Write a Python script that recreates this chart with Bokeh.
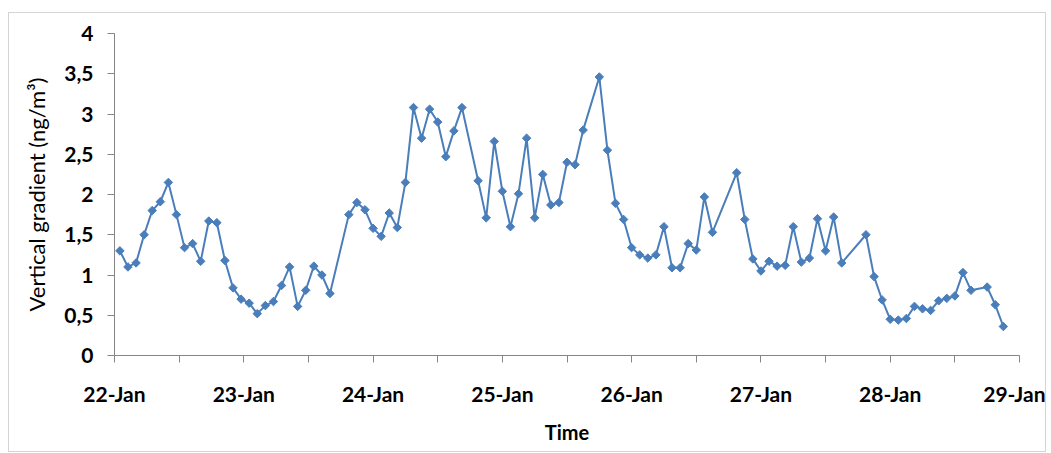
from bokeh.plotting import figure
from bokeh.models import FixedTicker
from bokeh.layouts import column
from bokeh.embed import file_html
from bokeh.resources import INLINE
import math

# hours since 22-Jan 00:00
hours = [1.0, 2.5, 4.0, 5.5, 7.0, 8.5, 10.0, 11.5, 13.0, 14.5, 16.0, 17.5, 19.0, 20.5,
         22.0, 23.5, 25.0, 26.5, 28.0, 29.5, 31.0, 32.5, 34.0, 35.5, 37.0, 38.5, 40.0,
         43.5, 45.0, 46.5, 48.0, 49.5, 51.0, 52.5, 54.0, 55.5, 57.0, 58.5, 60.0, 61.5, 63.0, 64.5,
         67.5, 69.0, 70.5, 72.0, 73.5, 75.0, 76.5, 78.0, 79.5, 81.0, 82.5, 84.0, 85.5, 87.0,
         90.0, 91.5, 93.0, 94.5, 96.0, 97.5, 99.0, 100.5, 102.0, 103.5, 105.0, 106.5, 108.0, 109.5, 111.0,
         115.5, 117.0, 118.5, 120.0, 121.5, 123.0, 124.5, 126.0, 127.5, 129.0, 130.5, 132.0, 133.5, 135.0,
         139.5, 141.0, 142.5, 144.0, 145.5, 147.0, 148.5, 150.0, 151.5, 153.0, 154.5, 156.0, 157.5, 159.0,
         162.0, 163.5, 165.0]

gradient = [1.30, 1.10, 1.15, 1.50, 1.80, 1.91, 2.15, 1.75, 1.34, 1.39, 1.17, 1.67, 1.65, 1.18,
            0.84, 0.70, 0.65, 0.52, 0.62, 0.67, 0.87, 1.10, 0.61, 0.81, 1.11, 1.00, 0.77,
            1.75, 1.90, 1.81, 1.58, 1.48, 1.77, 1.59, 2.15, 3.08, 2.70, 3.06, 2.90, 2.47, 2.79, 3.08,
            2.17, 1.71, 2.66, 2.04, 1.60, 2.01, 2.70, 1.71, 2.25, 1.87, 1.90, 2.40, 2.37, 2.80,
            3.46, 2.55, 1.89, 1.69, 1.34, 1.25, 1.21, 1.25, 1.60, 1.09, 1.09, 1.39, 1.31, 1.97, 1.53,
            2.27, 1.69, 1.20, 1.05, 1.17, 1.11, 1.12, 1.60, 1.16, 1.21, 1.70, 1.30, 1.72, 1.15,
            1.50, 0.98, 0.69, 0.45, 0.44, 0.46, 0.61, 0.58, 0.56, 0.68, 0.71, 0.74, 1.03, 0.81,
            0.85, 0.63, 0.36]

day_labels = ["22-Jan", "23-Jan", "24-Jan", "25-Jan", "26-Jan", "27-Jan", "28-Jan", "29-Jan"]
y_ticks = [0, 0.5, 1, 1.5, 2, 2.5, 3, 3.5, 4]
y_labels = ["0", "0,5", "1", "1,5", "2", "2,5", "3", "3,5", "4"]

W, H = 1036, 438
p = figure(width=W, height=H, output_backend="svg", toolbar_location=None,
           x_range=(0, 24 * (len(day_labels) - 1)), y_range=(0, 4),
           min_border_left=105, min_border_right=W - 1010, min_border_top=20,
           min_border_bottom=H - 342)

p.xgrid.visible = False
p.ygrid.visible = False
p.outline_line_color = None
p.background_fill_color = "white"
p.border_fill_color = "white"

FONT = "Lato"
axis_col = "#868686"

major_x = [24 * i for i in range(len(day_labels))]
minor_x = [24 * i + 12 for i in range(len(day_labels) - 1)]
p.xaxis.ticker = FixedTicker(ticks=major_x, minor_ticks=minor_x)
p.xaxis.major_label_overrides = {t: l for t, l in zip(major_x, day_labels)}
p.yaxis.ticker = FixedTicker(ticks=y_ticks)
p.yaxis.major_label_overrides = {t: l for t, l in zip(y_ticks, y_labels)}

for ax in (p.xaxis[0], p.yaxis[0]):
    ax.axis_line_color = axis_col
    ax.major_tick_line_color = axis_col
    ax.minor_tick_line_color = axis_col
    ax.major_tick_in = 0
    ax.major_tick_out = 7
    ax.minor_tick_in = 0
    ax.minor_tick_out = 7
    ax.major_label_text_font = FONT
    ax.major_label_text_font_style = "bold"
    ax.major_label_text_font_size = "21px"
    ax.major_label_text_color = "black"
    ax.axis_label_text_font = FONT
    ax.axis_label_text_color = "black"

p.yaxis.minor_tick_line_color = None
p.xaxis.major_label_standoff = 18
p.yaxis.major_label_standoff = 14
p.xaxis.axis_label = "Time"
p.xaxis.axis_label_text_font_style = "bold"
p.xaxis.axis_label_text_font_size = "20px"
p.xaxis.axis_label_standoff = 11
p.yaxis.axis_label = "Vertical gradient (ng/m³)"
p.yaxis.axis_label_text_font_style = "normal"
p.yaxis.axis_label_text_font_size = "22px"
p.yaxis.axis_label_standoff = 11

blue = "#4a7ebb"
p.line(hours, gradient, line_color=blue, line_width=2)
p.scatter(hours, gradient, marker="square", angle=math.pi / 4, size=6,
          fill_color=blue, line_color=blue)

layout = column(p, margin=(12, 0, 0, 8),
                styles={"border": "1px solid #d4d4d4"})

open("out.html", "w").write(file_html(layout, INLINE))
